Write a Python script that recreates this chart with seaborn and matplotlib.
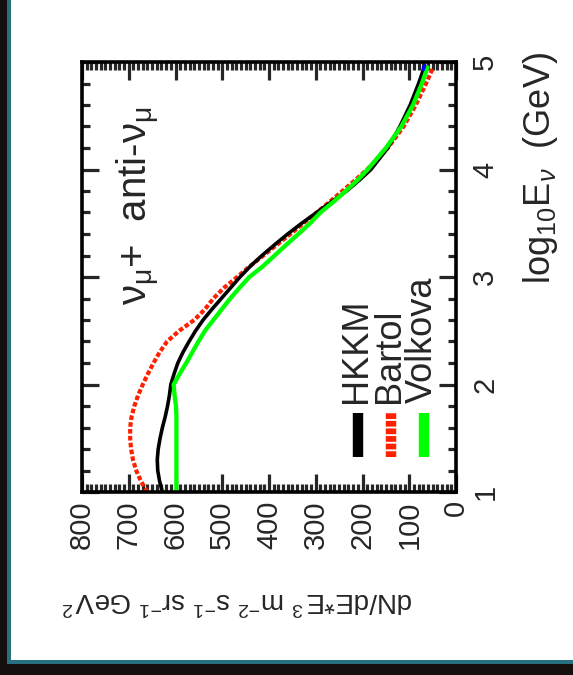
import numpy as np
import pandas as pd
import matplotlib
matplotlib.use("Agg")
import matplotlib.pyplot as plt
import seaborn as sns
from matplotlib.patches import Rectangle
from matplotlib.ticker import MultipleLocator

# ---------------- data ----------------
log_e = [1.0, 1.1, 1.2, 1.3, 1.4, 1.5, 1.6, 1.7, 1.8, 1.9,
         2.0, 2.1, 2.2, 2.3, 2.4, 2.5, 2.6, 2.7, 2.8, 2.9,
         3.0, 3.1, 3.2, 3.3, 3.4, 3.5, 3.6, 3.7, 3.8, 3.9,
         4.0, 4.2, 4.4, 4.6, 4.8, 4.95]
hkkm = [628, 634, 638, 639, 637, 633, 628, 622, 617, 613,
        610, 603, 595, 584, 571, 557, 541, 522, 502, 482,
        462, 440, 415, 388, 360, 330, 298, 266, 234, 207,
        182, 146, 120, 98, 80, 68]
bartol = [660, 674, 684, 691, 695, 697, 697, 694, 688, 680,
          670, 659, 647, 634, 618, 592, 560, 537, 519, 496,
          468, 441, 412, 383, 354, 326, 298, 270, 243, 216,
          190, 146, 112, 86, 64, 49]
volkova = [598, 598, 598, 598, 598, 598, 598, 598, 599, 602,
           604, 591, 577, 564, 551, 537, 519, 501, 483, 463,
           442, 413, 388, 363, 337, 312, 290, 262, 236, 211,
           189, 150, 117, 92, 73, 61]
blue_log_e = [4.93, 4.97]
blue_flux = [70, 67]

flux_ticks = [0, 100, 200, 300, 400, 500, 600, 700, 800]
flux_tick_labels = ["0", "100", "200", "300", "400", "500", "600", "700", "800"]
loge_ticks = [1, 2, 3, 4, 5]
loge_tick_labels = ["1", "2", "3", "4", "5"]
legend_labels = ["HKKM", "Bartol", "Volkova"]

# ---------------- style ----------------
sns.set_style("ticks")
plt.rcParams["font.family"] = ["Liberation Sans", "DejaVu Sans"]
plt.rcParams["mathtext.fontset"] = "custom"
plt.rcParams["mathtext.rm"] = "Liberation Sans"
plt.rcParams["mathtext.it"] = "Liberation Sans:italic"
plt.rcParams["mathtext.bf"] = "Liberation Sans:bold"

W, H = 573, 675
fig = plt.figure(figsize=(W / 100, H / 100), dpi=100)
fig.patch.set_facecolor("#150f0e")


def fx(x):
    return x / W


def fy(y):
    return 1 - y / H


fig.add_artist(Rectangle((fx(7), fy(664)), 1, 664 / H, transform=fig.transFigure,
                         facecolor="#27707f", edgecolor="none", zorder=0))
fig.add_artist(Rectangle((fx(11), fy(660)), 1, 660 / H, transform=fig.transFigure,
                         facecolor="white", edgecolor="none", zorder=0))

ax = fig.add_axes([fx(82), fy(492), (456 - 82) / W, (492 - 62) / H])
ax.set_facecolor("white")
ax.set_zorder(2)

df = pd.DataFrame({"logE": log_e, "HKKM": hkkm, "Bartol": bartol, "Volkova": volkova})

sns.lineplot(data=df, x="Bartol", y="logE", sort=False, estimator=None, orient="y",
             color="#ff2000", lw=3.0, linestyle=(0, (1.1, 0.55)), ax=ax)
sns.lineplot(data=df, x="HKKM", y="logE", sort=False, estimator=None, orient="y",
             color="black", lw=2.6, ax=ax)
sns.lineplot(data=df, x="Volkova", y="logE", sort=False, estimator=None, orient="y",
             color="#00ff00", lw=3.1, ax=ax)
sns.lineplot(x=blue_flux, y=blue_log_e, sort=False, estimator=None, orient="y",
             color="#0000ff", lw=2.6, ax=ax)

ax.set_xlim(800, 0)
ax.set_ylim(1, 5)
ax.set_xlabel("")
ax.set_ylabel("")

ax.set_xticks(flux_ticks)
ax.set_xticklabels(flux_tick_labels)
ax.set_yticks(loge_ticks)
ax.set_yticklabels(loge_tick_labels)
ax.xaxis.set_minor_locator(MultipleLocator(10))
ax.yaxis.set_minor_locator(MultipleLocator(0.2))

for s in ax.spines.values():
    s.set_linewidth(2.6)
    s.set_color("black")

ax.tick_params(axis="x", which="both", direction="in", top=True, bottom=True,
               labelbottom=True, labeltop=False, width=2.3, labelsize=21,
               labelrotation=90, pad=6)
ax.tick_params(axis="x", which="major", length=13)
ax.tick_params(axis="x", which="minor", length=5.5)
ax.tick_params(axis="y", which="both", direction="in", left=True, right=True,
               labelleft=False, labelright=True, width=2.3, labelsize=21,
               labelrotation=90, pad=11)
ax.tick_params(axis="y", which="major", length=12)
ax.tick_params(axis="y", which="minor", length=6)
for lab in ax.get_yticklabels():
    lab.set_verticalalignment("center")

# legend (manual, rotated)
leg_colors = ["black", "#ff2000", "#00ff00"]
leg_styles = ["-", (0, (0.55, 0.18)), "-"]
leg_x = [0.738, 0.826, 0.914]
for lab, c, ls, x in zip(legend_labels, leg_colors, leg_styles, leg_x):
    ax.plot([x, x], [0.081, 0.184], transform=ax.transAxes, color=c, lw=7.5,
            linestyle=ls, solid_capstyle="butt", dash_capstyle="butt", zorder=5)
    ax.text(x - 0.004, 0.207, lab, transform=ax.transAxes, rotation=90,
            ha="center", va="bottom", fontsize=26, zorder=5)

# annotation
ax.text(fx(138), fy(305), r"$\mathrm{\nu_{\mu}}$+  anti-$\mathrm{\nu_{\mu}}$",
        transform=fig.transFigure, rotation=90, ha="center", va="bottom", fontsize=29)

# axis titles
fig.text(fx(540), fy(284), r"log$_{10}$E$_{\nu}$  (GeV)", rotation=90,
         ha="center", va="bottom", fontsize=26)
fig.text(fx(237), fy(600),
         r"dN/dE*E$^{\,3}$ m$^{-2}$ s$^{-1}$ sr$^{-1}$ GeV$^{\,2}$",
         rotation=180, ha="center", va="center", fontsize=20)

fig.savefig("out.png", dpi=100, facecolor=fig.get_facecolor())
